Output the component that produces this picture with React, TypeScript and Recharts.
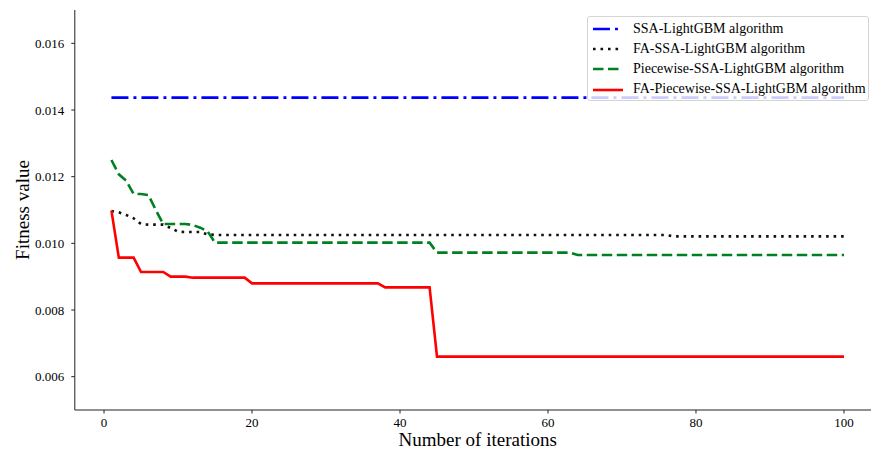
import React from 'react';
import { LineChart, Line, XAxis, YAxis, Legend } from 'recharts';

const iterations = [
  1, 2, 3, 4, 5, 6, 7, 8, 9, 10,
  11, 12, 13, 14, 15, 16, 17, 18, 19, 20,
  21, 22, 23, 24, 25, 26, 27, 28, 29, 30,
  31, 32, 33, 34, 35, 36, 37, 38, 39, 40,
  41, 42, 43, 44, 45, 46, 47, 48, 49, 50,
  51, 52, 53, 54, 55, 56, 57, 58, 59, 60,
  61, 62, 63, 64, 65, 66, 67, 68, 69, 70,
  71, 72, 73, 74, 75, 76, 77, 78, 79, 80,
  81, 82, 83, 84, 85, 86, 87, 88, 89, 90,
  91, 92, 93, 94, 95, 96, 97, 98, 99, 100,
];

const ssaLightGBM = [
  0.01437, 0.01437, 0.01437, 0.01437, 0.01437, 0.01437, 0.01437, 0.01437, 0.01437, 0.01437,
  0.01437, 0.01437, 0.01437, 0.01437, 0.01437, 0.01437, 0.01437, 0.01437, 0.01437, 0.01437,
  0.01437, 0.01437, 0.01437, 0.01437, 0.01437, 0.01437, 0.01437, 0.01437, 0.01437, 0.01437,
  0.01437, 0.01437, 0.01437, 0.01437, 0.01437, 0.01437, 0.01437, 0.01437, 0.01437, 0.01437,
  0.01437, 0.01437, 0.01437, 0.01437, 0.01437, 0.01437, 0.01437, 0.01437, 0.01437, 0.01437,
  0.01437, 0.01437, 0.01437, 0.01437, 0.01437, 0.01437, 0.01437, 0.01437, 0.01437, 0.01437,
  0.01437, 0.01437, 0.01437, 0.01437, 0.01437, 0.01437, 0.01437, 0.01437, 0.01437, 0.01437,
  0.01437, 0.01437, 0.01437, 0.01437, 0.01437, 0.01437, 0.01437, 0.01437, 0.01437, 0.01437,
  0.01437, 0.01437, 0.01437, 0.01437, 0.01437, 0.01437, 0.01437, 0.01437, 0.01437, 0.01437,
  0.01437, 0.01437, 0.01437, 0.01437, 0.01437, 0.01437, 0.01437, 0.01437, 0.01437, 0.01437,
];

const faSsaLightGBM = [
  0.01097, 0.01093, 0.01085, 0.01075, 0.01058, 0.01056, 0.01056, 0.01056, 0.01046, 0.01035,
  0.01034, 0.01034, 0.01034, 0.01027, 0.01025, 0.01025, 0.01025, 0.01025, 0.01025, 0.01025,
  0.01025, 0.01025, 0.01025, 0.01025, 0.01025, 0.01025, 0.01025, 0.01025, 0.01025, 0.01025,
  0.01025, 0.01025, 0.01025, 0.01025, 0.01025, 0.01025, 0.01025, 0.01025, 0.01025, 0.01025,
  0.01025, 0.01025, 0.01025, 0.01025, 0.01025, 0.01025, 0.01025, 0.01025, 0.01025, 0.01025,
  0.01025, 0.01025, 0.01025, 0.01025, 0.01025, 0.01025, 0.01025, 0.01025, 0.01025, 0.01025,
  0.01025, 0.01025, 0.01025, 0.01025, 0.01025, 0.01025, 0.01025, 0.01025, 0.01025, 0.01025,
  0.01025, 0.01025, 0.01025, 0.01025, 0.01025, 0.01025, 0.01021, 0.01021, 0.01021, 0.01021,
  0.01021, 0.01021, 0.01021, 0.01021, 0.01021, 0.01021, 0.01021, 0.01021, 0.01021, 0.01021,
  0.01021, 0.01021, 0.01021, 0.01021, 0.01021, 0.01021, 0.01021, 0.01021, 0.01021, 0.01021,
];

const piecewiseSsaLightGBM = [
  0.0125, 0.01207, 0.01188, 0.01148, 0.01148, 0.01145, 0.011, 0.01058, 0.01058, 0.01058,
  0.01058, 0.01055, 0.01047, 0.01036, 0.01002, 0.01002, 0.01002, 0.01002, 0.01002, 0.01002,
  0.01002, 0.01002, 0.01002, 0.01002, 0.01002, 0.01002, 0.01002, 0.01002, 0.01002, 0.01002,
  0.01002, 0.01002, 0.01002, 0.01002, 0.01002, 0.01002, 0.01002, 0.01002, 0.01002, 0.01002,
  0.01002, 0.01002, 0.01002, 0.01002, 0.00972, 0.00972, 0.00972, 0.00972, 0.00972, 0.00972,
  0.00972, 0.00972, 0.00972, 0.00972, 0.00972, 0.00972, 0.00972, 0.00972, 0.00972, 0.00972,
  0.00972, 0.00972, 0.00972, 0.00965, 0.00965, 0.00965, 0.00965, 0.00965, 0.00965, 0.00965,
  0.00965, 0.00965, 0.00965, 0.00965, 0.00965, 0.00965, 0.00965, 0.00965, 0.00965, 0.00965,
  0.00965, 0.00965, 0.00965, 0.00965, 0.00965, 0.00965, 0.00965, 0.00965, 0.00965, 0.00965,
  0.00965, 0.00965, 0.00965, 0.00965, 0.00965, 0.00965, 0.00965, 0.00965, 0.00965, 0.00965,
];

const faPiecewiseSsaLightGBM = [
  0.01098, 0.00957, 0.00957, 0.00957, 0.00914, 0.00914, 0.00914, 0.00914, 0.009, 0.009,
  0.009, 0.00897, 0.00897, 0.00897, 0.00897, 0.00897, 0.00897, 0.00897, 0.00897, 0.0088,
  0.0088, 0.0088, 0.0088, 0.0088, 0.0088, 0.0088, 0.0088, 0.0088, 0.0088, 0.0088,
  0.0088, 0.0088, 0.0088, 0.0088, 0.0088, 0.0088, 0.0088, 0.00868, 0.00868, 0.00868,
  0.00868, 0.00868, 0.00868, 0.00868, 0.0066, 0.0066, 0.0066, 0.0066, 0.0066, 0.0066,
  0.0066, 0.0066, 0.0066, 0.0066, 0.0066, 0.0066, 0.0066, 0.0066, 0.0066, 0.0066,
  0.0066, 0.0066, 0.0066, 0.0066, 0.0066, 0.0066, 0.0066, 0.0066, 0.0066, 0.0066,
  0.0066, 0.0066, 0.0066, 0.0066, 0.0066, 0.0066, 0.0066, 0.0066, 0.0066, 0.0066,
  0.0066, 0.0066, 0.0066, 0.0066, 0.0066, 0.0066, 0.0066, 0.0066, 0.0066, 0.0066,
  0.0066, 0.0066, 0.0066, 0.0066, 0.0066, 0.0066, 0.0066, 0.0066, 0.0066, 0.0066,
];

const xTicks = [0, 20, 40, 60, 80, 100];
const yTicks = [0.006, 0.008, 0.01, 0.012, 0.014, 0.016];

const seriesNames = [
  'SSA-LightGBM algorithm',
  'FA-SSA-LightGBM algorithm',
  'Piecewise-SSA-LightGBM algorithm',
  'FA-Piecewise-SSA-LightGBM algorithm',
];
const seriesKeys = ['ssa', 'faSsa', 'piecewise', 'faPiecewise'];
const seriesColors = ['#0000ff', '#111111', '#008020', '#ff0000'];
const seriesDash = ['17 5 3 5', '2.6 4.9', '10.5 4.5', undefined];

const data = iterations.map((it, i) => ({
  iteration: it,
  ssa: ssaLightGBM[i],
  faSsa: faSsaLightGBM[i],
  piecewise: piecewiseSsaLightGBM[i],
  faPiecewise: faPiecewiseSsaLightGBM[i],
}));

const FONT = '"Liberation Serif", "Times New Roman", serif';

const renderLegend = () => (
  <div
    style={{
      boxSizing: 'border-box',
      width: 282,
      height: 85,
      background: 'rgba(255,255,255,0.8)',
      border: '1px solid #d4d4d4',
      borderRadius: 3,
      paddingTop: 1.5,
      paddingLeft: 5,
      fontFamily: FONT,
      fontSize: 14,
      color: '#000',
    }}
  >
    {seriesNames.map((name, i) => (
      <div key={name} style={{ display: 'flex', alignItems: 'center', height: 20.3, lineHeight: '20.3px', whiteSpace: 'nowrap' }}>
        <svg width={30} height={8} style={{ marginRight: 10, flex: 'none' }}>
          <line x1={0} y1={4} x2={30} y2={4} stroke={seriesColors[i]} strokeWidth={2.6} strokeDasharray={seriesDash[i]} />
        </svg>
        <span style={{ fontFamily: FONT, fontSize: 14 }}>{name}</span>
      </div>
    ))}
  </div>
);

const YLabel = (props: any) => {
  const vb = props.viewBox || { x: 0, y: 10, width: 75, height: 400 };
  const cx = 22;
  const cy = vb.y + vb.height / 2;
  return (
    <text x={cx} y={cy} transform={`rotate(-90 ${cx} ${cy})`} textAnchor="middle" dominantBaseline="central" fontFamily={FONT} fontSize={19} fill="#000">
      Fitness value
    </text>
  );
};

export default function App() {
  return (
    <div style={{ position: 'fixed', left: 0, top: 0, width: 871, height: 450, overflow: 'hidden', background: '#fff', fontFamily: FONT }}>
      <LineChart width={890} height={450} data={data} margin={{ top: 10, right: 9.4, left: 0, bottom: 0 }} style={{ fontFamily: FONT }}>
        <XAxis
          dataKey="iteration"
          type="number"
          domain={[-3.95, 104.95]}
          ticks={xTicks}
          allowDataOverflow
          height={40}
          stroke="#222"
          tickSize={3.5}
          tickMargin={4}
          tick={{ fontSize: 13, fontFamily: FONT, fill: '#000' }}
          label={{ value: 'Number of iterations', position: 'insideBottom', offset: 4, fontSize: 19, fontFamily: FONT, fill: '#000' }}
        />
        <XAxis
          xAxisId="top"
          dataKey="iteration"
          type="number"
          orientation="top"
          domain={[-3.95, 104.95]}
          height={0}
          tick={false}
          tickLine={false}
          stroke="#222"
        />
        <YAxis
          type="number"
          domain={[0.005, 0.017]}
          ticks={yTicks}
          allowDataOverflow
          width={74.8}
          stroke="#222"
          tickSize={3.5}
          tickMargin={7}
          tickFormatter={(v: number) => v.toFixed(3)}
          tick={{ fontSize: 13, fontFamily: FONT, fill: '#000' }}
          label={<YLabel />}
        />
        <Legend
          layout="vertical"
          align="center"
          verticalAlign="middle"
          content={renderLegend}
          wrapperStyle={{ left: 587, top: 16, width: 282, height: 85 }}
        />
        {seriesKeys.map((k, i) => (
          <Line
            key={k}
            type="linear"
            dataKey={k}
            name={seriesNames[i]}
            stroke={seriesColors[i]}
            strokeWidth={2.6}
            strokeDasharray={seriesDash[i]}
            dot={false}
            activeDot={false}
            isAnimationActive={false}
          />
        ))}
      </LineChart>
    </div>
  );
}
